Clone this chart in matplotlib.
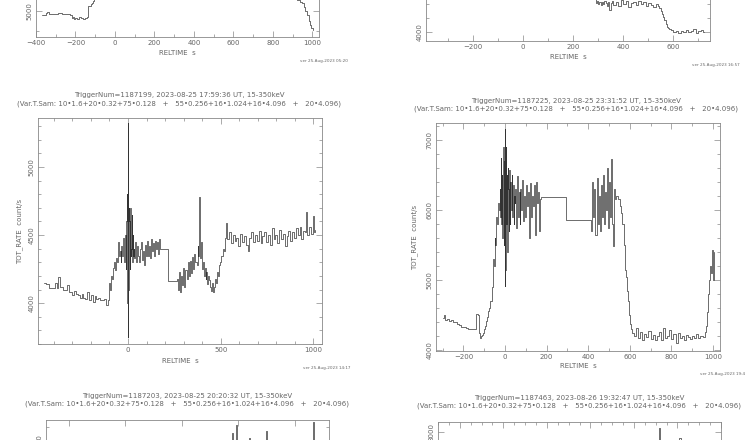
import matplotlib
matplotlib.use("Agg")
import matplotlib.pyplot as plt
from matplotlib.ticker import MultipleLocator, FixedLocator

W, H = 752, 440
INK = "#333333"
GREY = "#666666"

TITLE2 = ("(Var.T.Sam: 10\u20221.6+20\u20220.32+75\u20220.128   +   "
          "55\u20220.256+16\u20221.024+16\u20224.096   +   20\u20224.096)")

# --- top-left fragment (only the bottom of the panel is on the page) ---
tl_t = [-370, -360, -350, -345, -335, -320, -300, -290, -270, -250, -240, -230,
        -220, -215, -210, -200, -190, -180, -170, -160, -150, -140, -135, -125,
        -120, -115, -110, -105, -100, -90, 900, 920, 935, 945, 955, 962, 970,
        980, 987, 995, 1001]
tl_r = [4960, 4960, 4980, 4990, 4970, 4970, 4970, 4980, 4970, 4970, 4970, 4960,
        4930, 4940, 4920, 4930, 4920, 4940, 4930, 4920, 4930, 4940, 5050, 5050,
        5070, 5080, 5100, 5130, 5160, 6000, 5500, 5110, 5090, 5080, 5040, 5000,
        4960, 4900, 4860, 4830, 4810]

# --- top-right fragment ---
tr_t = [200, 290, 295, 300, 305, 310, 315, 320, 325, 330, 335, 340, 345, 350,
        355, 360, 370, 380, 390, 400, 410, 420, 430, 440, 450, 460, 470, 480,
        490, 500, 510, 520, 530, 540, 545, 550, 555, 560, 565, 570, 575, 580,
        585, 590, 600, 610, 620, 630, 640, 650, 660, 670, 680, 690, 700, 710,
        720, 725]
tr_r = [4900, 4410, 4440, 4400, 4430, 4390, 4430, 4400, 4440, 4410, 4370, 4430,
        4310, 4410, 4440, 4390, 4430, 4370, 4460, 4400, 4440, 4360, 4410, 4430,
        4390, 4440, 4400, 4430, 4370, 4410, 4390, 4360, 4400, 4370, 4340, 4300,
        4260, 4210, 4170, 4110, 4070, 4060, 4040, 4030, 4000, 4010, 3990, 4010,
        4000, 4030, 4000, 4010, 4040, 3990, 4010, 4030, 4000, 4000]

# --- TriggerNum=1187199 ---
ml_t = [-450, -440, -425, -410, -395, -385, -375, -365, -350, -340, -330, -320,
        -310, -300, -290, -280, -270, -260, -250, -240, -230, -220, -210, -200,
        -190, -180, -170, -160, -150, -140, -130, -120, -110,
        -105, -100, -95, -90, -85, -80, -75, -70, -65, -60, -55, -50, -45, -40,
        -35, -30, -25, -20, -15, -10,
        -8, -6, -4, -3, -2, -1, -0.5, 0, 0.5, 1, 1.5, 2, 3, 4, 5, 6, 8, 10, 12,
        14, 16, 18, 20, 22, 25, 28,
        30, 35, 40, 45, 50, 55, 60, 65, 70, 75, 80, 85, 90, 95, 100, 105, 110,
        115, 120, 125, 130, 135, 140, 145, 150, 155, 160, 165, 170, 175, 180,
        216, 262, 268, 274, 280, 286, 292, 298, 304, 310, 316, 322, 328, 334,
        340, 346, 352, 358, 364, 370, 376, 380,
        383, 388, 393, 398, 403, 408, 413, 418, 423, 428, 433, 438, 443, 448,
        453, 458,
        462, 468, 474, 480, 486, 492, 498, 504, 510, 516, 522, 528,
        535, 545, 555, 565, 575, 585, 595, 605, 615, 625, 635, 645, 655, 665,
        675, 685, 695, 705, 715, 725, 735, 745, 755, 765, 775, 785, 795, 805,
        815, 825, 835, 845, 855, 865, 875, 885, 895, 905, 915, 925, 935, 945,
        955, 960, 965, 975, 985, 995, 1005, 1010]
ml_r = [4150, 4140, 4110, 4110, 4150, 4110, 4190, 4120, 4100, 4100, 4130, 4080,
        4080, 4060, 4090, 4070, 4060, 4040, 4070, 4040, 4030, 4080, 4020, 4060,
        4010, 4050, 4030, 4040, 4020, 4020, 4030, 3990, 4000,
        4020, 4150, 4100, 4200, 4180, 4260, 4300, 4240, 4330, 4300, 4450, 4350,
        4380, 4300, 4420, 4350, 4480, 4300, 4500, 4250,
        4600, 4100, 4800, 4000, 5000, 3900, 5320, 3750, 5050, 3850, 4900, 4100,
        4700, 4200, 4650, 4300, 4600, 4250, 4700, 4350, 4550, 4400, 4650, 4300,
        4500, 4350,
        4400, 4330, 4450, 4300, 4420, 4350, 4300, 4400, 4450, 4320, 4380, 4280,
        4430, 4350, 4400, 4460, 4350, 4420, 4330, 4470, 4380, 4440, 4350, 4460,
        4400, 4450, 4360, 4470, 4430, 4400, 4400,
        4160, 4180, 4100, 4230, 4080, 4200, 4130, 4260, 4120, 4240, 4180, 4300,
        4200, 4310, 4220, 4340, 4250, 4360, 4300, 4280, 4420, 4350,
        4780, 4330, 4450, 4250, 4300, 4200, 4260, 4180, 4230, 4140, 4200, 4170,
        4120, 4090, 4150, 4080,
        4120, 4180, 4150, 4230, 4200, 4280, 4300, 4350, 4400, 4380, 4480, 4590,
        4470, 4520, 4440, 4500, 4460, 4480, 4420, 4510, 4450, 4490, 4430, 4380,
        4480, 4520, 4450, 4500, 4460, 4530, 4440, 4490, 4520, 4450, 4500, 4430,
        4550, 4470, 4500, 4440, 4540, 4470, 4510, 4420, 4490, 4530, 4460, 4520,
        4480, 4550, 4500, 4560, 4470, 4530, 4520, 4670, 4500, 4560, 4510, 4640,
        4520, 4540]

# --- TriggerNum=1187225 ---
mr_t = [-300, -295, -290, -280, -270, -260, -250, -240, -230, -220, -210, -200,
        -190, -180, -170, -160, -150, -140, -130, -125, -120, -115, -110, -105,
        -100,
        -95, -90, -85, -80, -75, -70, -65, -60, -57, -54, -50, -46, -42, -38,
        -34, -30, -26, -22,
        -20, -18, -16, -14, -12, -10, -8, -6, -4, -2, -1, 0, 1, 2, 3, 4, 5, 6,
        8, 10, 12, 14, 16, 18, 20, 23, 26, 29, 32, 35, 38, 41, 44, 47, 50, 54,
        58, 62, 66, 70, 74, 78, 82, 86, 90, 95, 100, 105, 110, 115, 120, 125,
        130, 135, 140, 145, 150, 155, 160, 165, 170,
        175, 295,
        415, 420, 425, 430, 435, 440, 445, 450, 455, 460, 465, 470, 475, 480,
        485, 490, 495, 500, 505, 510, 515, 520, 525, 530,
        535, 545, 555, 560, 565, 570, 575, 580, 585, 590, 595, 600, 605,
        610, 620, 630, 640, 650, 660, 670, 680, 690, 700, 710, 720, 730, 740,
        750, 760, 770, 780, 790, 800, 810, 820, 830, 840, 850, 860, 870, 880,
        890, 900, 910, 920, 930, 940, 950, 960,
        965, 970, 975, 980, 985, 990, 995, 1000, 1005]
mr_r = [4460, 4500, 4430, 4440, 4420, 4430, 4400, 4410, 4380, 4360, 4330, 4330,
        4320, 4310, 4300, 4310, 4300, 4520, 4510, 4250, 4180, 4200, 4220, 4250,
        4300,
        4350, 4420, 4480, 4560, 4600, 4700, 4900, 5000, 5300, 5200, 5600, 5500,
        5900, 5800, 6100, 6000, 6300, 5900,
        6740, 5800, 6500, 5600, 6600, 5700, 6900, 5500, 6700, 5300, 6800, 4920,
        7150, 5150, 6900, 5600, 6880, 5800, 6500, 5400, 6600, 5900, 6300, 5700,
        6570, 5800, 6400, 6000, 6500, 5900, 6350, 5800, 6200, 6100, 6300, 5750,
        6480, 5900, 6250, 5800, 6300, 6000, 6430, 5850, 6200, 5900, 6350, 6050,
        6250, 5600, 6380, 5900, 6200, 6050, 6350, 5650, 6400, 6100, 6250, 5700,
        6150,
        6190, 5860,
        5700, 6400, 5900, 6300, 5650, 6450, 5800, 6200, 5700, 6350, 5900, 6500,
        5800, 6250, 6000, 6600, 5750, 6400, 5900, 6720, 5800, 5480, 6300, 6150,
        6200, 6150, 6050, 5950, 5800, 5500, 5150, 5050, 4850, 4700, 4500, 4380,
        4300,
        4250, 4200, 4320, 4180, 4260, 4150, 4230, 4190, 4280, 4160, 4220, 4140,
        4200, 4260, 4150, 4320, 4170, 4210, 4290, 4160, 4230, 4110, 4240, 4180,
        4200, 4150, 4220, 4190, 4160, 4210, 4180, 4230, 4170, 4200, 4190, 4260,
        4350, 4550, 4800, 5000, 5200, 5100, 5430, 5000, 5400]

# --- TriggerNum=1187203 (only the top strip is on the page) ---
bl_t = [-100, 700, 720, 725, 735, 740, 745, 790, 795, 800, 865, 870, 875, 980,
        985, 990, 1075, 1080, 1085, 1150]
bl_r = [4700, 4750, 5125, 4800, 5040, 5225, 4800, 4750, 5060, 4780, 4760, 5150,
        4770, 4750, 5040, 4760, 4800, 5260, 4800, 4800]

# --- TriggerNum=1187463 ---
br_t = [-300, 705, 714, 722, 800, 809, 815, 1000]
br_r = [7000, 7050, 8060, 7100, 7050, 7914, 7050, 7050]


fig = plt.figure(figsize=(W / 100, H / 100), dpi=100)
plt.rcParams["font.family"] = ["DejaVu Sans"]
FS = 5


def add_axes_px(l, t, r, b):
    return fig.add_axes([l / W, 1 - b / H, (r - l) / W, (b - t) / H])


def style(ax, xmaj, xmin, ymaj, ymin, yshow=None, xlabels=True):
    for sp in ax.spines.values():
        sp.set_color("#888888")
        sp.set_linewidth(0.6)
    ax.xaxis.set_major_locator(MultipleLocator(xmaj))
    ax.xaxis.set_minor_locator(MultipleLocator(xmin))
    if yshow is None:
        ax.yaxis.set_major_locator(MultipleLocator(ymaj))
    else:
        # only the labels that fall on the page
        ax.yaxis.set_major_locator(FixedLocator(yshow))
    ax.yaxis.set_minor_locator(MultipleLocator(ymin))
    ax.tick_params(which="both", direction="in", top=True, right=True,
                   colors="#888888", labelcolor=GREY, labelsize=FS, width=0.5)
    ax.tick_params(which="major", length=4, pad=2.5)
    ax.tick_params(which="minor", length=2)
    ax.tick_params(axis="y", labelrotation=90)
    if not xlabels:
        ax.tick_params(axis="x", labelbottom=False)
    for lab in ax.get_yticklabels():
        lab.set_va("center")


def curve(ax, t, r):
    ax.step(t, r, where="post", lw=0.5, color=INK)


def titles(xc, y1, y2, trig):
    fig.text(xc / W, 1 - y1 / H, trig, ha="center", va="center", fontsize=FS, color=GREY)
    fig.text(xc / W, 1 - y2 / H, TITLE2, ha="center", va="center", fontsize=FS, color=GREY)


def stamp(x, y, s):
    fig.text(x / W, 1 - y / H, s, ha="left", va="center", fontsize=3, color=GREY)


def labels(xlab_y, xc, ylab_x=None, ylab_y=None):
    fig.text(xc / W, 1 - xlab_y / H, "RELTIME  s", ha="center", va="center",
             fontsize=FS, color=GREY)
    if ylab_x is not None:
        fig.text(ylab_x / W, 1 - ylab_y / H, "TOT_RATE  count/s", ha="center",
                 va="center", rotation=90, fontsize=FS, color=GREY)


# top-left fragment
ax = add_axes_px(36, -189, 319, 37)
curve(ax, tl_t, tl_r)
ax.set_xlim(-400, 1033)
ax.set_ylim(4740, 7000)
style(ax, 200, 100, 1000, 200, yshow=[5000])
labels(53, 177)
stamp(300, 61, "ver 25-Aug-2023 05:20")

# top-right fragment
ax = add_axes_px(426, -185, 710, 41)
curve(ax, tr_t, tr_r)
ax.set_xlim(-388, 748)
ax.set_ylim(3870, 7099)
style(ax, 200, 100, 1000, 200, yshow=[4000])
labels(57, 568)
stamp(692, 65, "ver 25-Aug-2023 16:57")

# middle-left
titles(179, 95, 104, "TriggerNum=1187199, 2023-08-25 17:59:36 UT, 15-350keV")
ax = add_axes_px(38, 118, 322, 344)
curve(ax, ml_t, ml_r)
ax.set_xlim(-485, 1046)
ax.set_ylim(3700, 5360)
style(ax, 500, 100, 500, 100)
labels(361, 180, 20, 231)
stamp(303, 368, "ver 25-Aug-2023 14:17")

# middle-right
titles(576, 101, 109, "TriggerNum=1187225, 2023-08-25 23:31:52 UT, 15-350keV")
ax = add_axes_px(436, 123, 720, 351)
curve(ax, mr_t, mr_r)
ax.set_xlim(-332, 1034)
ax.set_ylim(3990, 7240)
style(ax, 200, 100, 1000, 200)
labels(366, 578, 415, 237)
stamp(700, 374, "ver 25-Aug-2023 19:4")

# bottom-left
titles(187, 396, 404, "TriggerNum=1187203, 2023-08-25 20:20:32 UT, 15-350keV")
ax = add_axes_px(46, 420, 329, 646)
curve(ax, bl_t, bl_r)
ax.set_xlim(-100, 1150)
ax.set_ylim(2462, 5287)
style(ax, 250, 250, 1000, 200, yshow=[5000], xlabels=False)

# bottom-right
titles(579, 398, 406, "TriggerNum=1187463, 2023-08-26 19:32:47 UT, 15-350keV")
ax = add_axes_px(438, 422, 721, 648)
curve(ax, br_t, br_r)
ax.set_xlim(-300, 1000)
ax.set_ylim(4980, 8143)
style(ax, 200, 50, 1000, 200, yshow=[8000], xlabels=False)

fig.savefig("out.png", dpi=100)
